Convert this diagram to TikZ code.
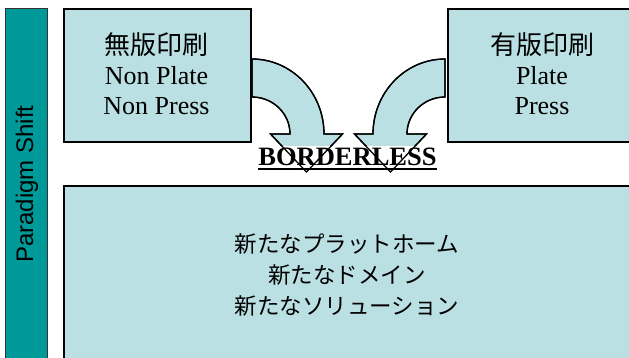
\documentclass[tikz,border=0pt]{standalone}
\usepackage{fontspec}
\setmainfont{Liberation Serif}
\setsansfont{Liberation Sans}
\newfontfamily\jpfont{Noto Sans CJK JP}
\definecolor{lightfill}{HTML}{BBE0E3}
\definecolor{tealbar}{HTML}{009999}
\begin{document}
\begin{tikzpicture}[x=1pt,y=-1pt,
  boxstyle/.style={draw=black, line width=1.5pt, fill=lightfill, rectangle, inner sep=0pt, anchor=north west},
  barstyle/.style={draw=black!80, line width=1pt, fill=tealbar, rectangle, inner sep=0pt, anchor=north west},
  arrowshape/.style={fill=lightfill, draw=black, line width=1.3pt, line join=miter},
  arrowline/.style={draw=black, line width=1.3pt, line join=miter},
  jptext/.style={font=\jpfont\fontsize{26}{26}\selectfont, inner sep=0pt, anchor=base},
  jpbig/.style={font=\jpfont\fontsize{22.5}{22.5}\selectfont, inner sep=0pt, anchor=base},
  sertext/.style={font=\fontsize{26}{26}\selectfont, inner sep=0pt, anchor=base},
]
\useasboundingbox (0,0) rectangle (629,357);
\clip (0,0) rectangle (629,357);
\fill[white] (0,0) rectangle (629,357);

% bar and boxes
\node[barstyle, minimum width=42pt, minimum height=400pt] (bar) at (5,8) {};
\node[boxstyle, minimum width=187pt, minimum height=133pt] (lbox) at (63,8) {};
\node[boxstyle, minimum width=200pt, minimum height=133pt] (rbox) at (447,8) {};
\node[boxstyle, minimum width=600pt, minimum height=220pt] (bbox) at (63,185) {};

% arrows
\coordinate (lc) at (252,134);
\coordinate (rc) at (445,134);
\def\leftarrowpath{(252,59) arc[start angle=-90, end angle=0, x radius=72, y radius=75]
   -- (342.5,134) -- (306.5,172) -- (270.5,134) -- (290,134)
   arc[start angle=0, end angle=-90, x radius=38, y radius=37] -- cycle}
\def\rightarrowpath{(445,59) arc[start angle=-90, end angle=-180, x radius=72, y radius=75]
   -- (354.5,134) -- (390.5,172) -- (426.5,134) -- (407,134)
   arc[start angle=-180, end angle=-90, x radius=38, y radius=37] -- cycle}
\path[arrowshape] \leftarrowpath;
\path[arrowshape] \rightarrowpath;

% white band behind BORDERLESS, then outlines again
\fill[white] (256,145.5) rectangle (440,173);
\path[arrowline] \leftarrowpath;
\path[arrowline] \rightarrowpath;

% texts
\node[font=\sffamily\fontsize{24}{24}\selectfont, rotate=90, inner sep=0pt] (ps) at (27,184) {Paradigm Shift};

\node[jptext] (lt) at (156.5,54) {無版印刷};
\node[sertext] (lp1) at (156.5,84) {Non Plate};
\node[sertext] (lp2) at (156.5,114) {Non Press};

\node[jptext] (rt) at (542,54) {有版印刷};
\node[sertext] (rp1) at (542,84) {Plate};
\node[sertext] (rp2) at (542,114) {Press};

\node[font=\bfseries\fontsize{26.5}{26.5}\selectfont, inner sep=0pt, anchor=base] (bl) at (347.5,165) {BORDERLESS};
\draw[line width=1.6pt] ([yshift=-4pt]bl.base west) -- ([yshift=-4pt]bl.base east);

\node[jpbig] (b1) at (347,252.5) {新たなプラットホーム};
\node[jpbig] (b2) at (347,283.5) {新たなドメイン};
\node[jpbig] (b3) at (347,314.5) {新たなソリューション};
\end{tikzpicture}
\end{document}
